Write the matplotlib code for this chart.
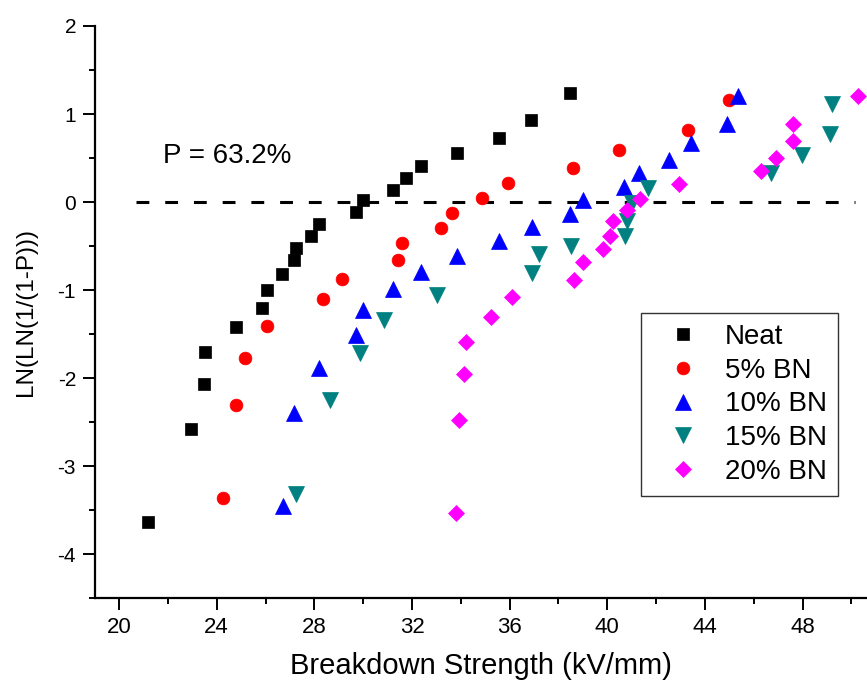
import numpy as np
import matplotlib
matplotlib.use('Agg')
import matplotlib.pyplot as plt

plt.rcParams['font.family'] = ['Liberation Sans', 'DejaVu Sans']
plt.rcParams['axes.unicode_minus'] = False

# Weibull plot data
neat_x = [21.19, 22.94, 23.47, 23.54, 24.81, 25.84, 26.08, 26.68, 27.16, 27.23, 27.87,
          28.20, 29.69, 30.00, 31.23, 31.75, 32.36, 33.84, 35.55, 36.89, 38.48]
neat_y = [-3.63, -2.58, -2.06, -1.70, -1.42, -1.20, -1.00, -0.82, -0.66, -0.52, -0.38,
          -0.25, -0.11, 0.02, 0.14, 0.27, 0.41, 0.56, 0.73, 0.93, 1.24]

bn5_x = [24.24, 24.78, 25.15, 26.08, 28.34, 29.14, 31.41, 31.57, 33.18, 33.65, 34.86,
         35.93, 38.61, 40.48, 43.31, 44.98]
bn5_y = [-3.36, -2.30, -1.77, -1.41, -1.10, -0.87, -0.66, -0.47, -0.29, -0.12, 0.05,
         0.22, 0.39, 0.59, 0.82, 1.16]

bn10_x = [26.70, 27.17, 28.21, 29.69, 30.00, 31.23, 32.36, 33.83, 35.55, 36.90, 38.48,
          39.02, 40.68, 41.28, 42.53, 43.44, 44.89, 45.37]
bn10_y = [-3.45, -2.40, -1.88, -1.51, -1.23, -0.99, -0.79, -0.61, -0.44, -0.28, -0.13,
          0.02, 0.17, 0.33, 0.48, 0.67, 0.89, 1.20]

bn15_x = [27.23, 28.66, 29.88, 30.86, 33.02, 36.93, 37.21, 38.51, 40.73, 40.80, 41.00,
          41.68, 46.70, 47.99, 49.13, 49.20]
bn15_y = [-3.31, -2.25, -1.71, -1.34, -1.06, -0.81, -0.59, -0.50, -0.39, -0.21, -0.01,
          0.16, 0.33, 0.53, 0.77, 1.11]

bn20_x = [33.81, 33.91, 34.11, 34.22, 35.22, 36.08, 38.65, 39.02, 39.84, 40.11, 40.25,
          40.80, 41.34, 42.94, 46.29, 46.91, 47.60, 47.60, 50.29]
bn20_y = [-3.53, -2.48, -1.95, -1.59, -1.31, -1.08, -0.89, -0.68, -0.53, -0.38, -0.22,
          -0.09, 0.04, 0.20, 0.35, 0.50, 0.69, 0.89, 1.20]

labels = ['Neat', '5% BN', '10% BN', '15% BN', '20% BN']

fig = plt.figure(figsize=(8.67, 6.87), dpi=100)
ax = fig.add_axes([0.1092, 0.1290, 0.8908, 0.8332])

# marker, size, colour for each series
styles = [('s', 9.0, 'black'), ('o', 9.2, 'red'), ('^', 11.5, 'blue'),
          ('v', 11.5, '#008080'), ('D', 8.5, 'magenta')]
series = [(neat_x, neat_y), (bn5_x, bn5_y), (bn10_x, bn10_y), (bn15_x, bn15_y), (bn20_x, bn20_y)]

# dashed line at P = 63.2%
ax.plot([20.7, 50.15], [0, 0], color='black', lw=2.2, dashes=[4.2, 5.2], zorder=1)

for (xs, ys), (m, ms, c), lab in zip(series, styles, labels):
    ax.plot(xs, ys, ls='none', marker=m, ms=ms, color=c, mec=c, mew=0.5, label=lab, zorder=3)

ax.text(21.79, 0.44, 'P = 63.2%', fontsize=20, ha='left', va='baseline')

ax.set_xlim(19, 50.64)
ax.set_ylim(-4.5, 2)
ax.set_xticks(np.arange(20, 50, 4))
ax.set_xticks(np.arange(22, 51, 4), minor=True)
ax.set_yticks(np.arange(-4, 2.1, 1))
ax.set_yticks(np.arange(-4.5, 2.1, 0.5), minor=True)

for s in ['top', 'right']:
    ax.spines[s].set_visible(False)
for s in ['left', 'bottom']:
    ax.spines[s].set_linewidth(1.6)

ax.tick_params(axis='both', which='major', direction='out', length=8.4, width=1.4, pad=5)
ax.tick_params(axis='both', which='minor', direction='out', length=4.3, width=1.4)
ax.tick_params(axis='x', which='major', labelsize=16)
ax.tick_params(axis='y', which='major', labelsize=15)

ax.set_xlabel('Breakdown Strength (kV/mm)', fontsize=21, labelpad=10)
ax.set_ylabel('LN(LN(1/(1-P)))', fontsize=17.5, labelpad=15)

leg = ax.legend(loc='upper left', bbox_to_anchor=(0.708, 0.499), borderaxespad=0,
                fontsize=20, numpoints=1, fancybox=False, framealpha=1,
                edgecolor='#333333', handlelength=2.2, handletextpad=0.4,
                borderpad=0.4, labelspacing=0.28)
leg.get_frame().set_linewidth(1.0)

fig.savefig('out.png', dpi=100)
